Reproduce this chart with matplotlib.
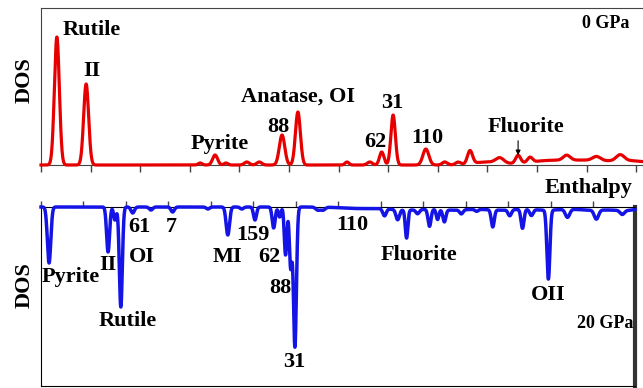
import numpy as np
import matplotlib
matplotlib.use("Agg")
import matplotlib.pyplot as plt

# ------------------------------------------------
# Data (enthalpy in tick units, DOS in arb. units)
# ------------------------------------------------
# 0 GPa: peak centre, height, broadening
top_pos = [0.32, 0.91, 3.21, 3.51, 3.73, 4.15, 4.40, 4.86, 5.18, 6.17, 6.63,
           6.87, 7.10, 7.76, 8.14, 8.41, 8.65, 9.25, 9.62, 9.86, 10.60, 11.20,
           11.68, 9.00, 10.20, 11.00, 11.90]
top_height = [128, 81, 2, 10, 2, 3, 3, 30, 53, 3, 3,
              13, 50, 16, 3, 2.5, 13, 5, 8, 5, 5, 4,
              6, 3, 4, 4, 4]
top_width = [0.05, 0.05, 0.04, 0.05, 0.04, 0.05, 0.05, 0.055, 0.05, 0.04, 0.05,
             0.045, 0.045, 0.06, 0.05, 0.05, 0.05, 0.08, 0.05, 0.05, 0.07, 0.08,
             0.08, 0.3, 0.4, 0.4, 0.4]

# 20 GPa: peak centre, depth, broadening
bot_pos = [0.19, 1.58, 1.74, 1.88, 2.16, 2.59, 3.10, 3.93, 4.40, 4.73, 5.04,
           5.48, 5.62, 5.76, 5.88, 5.98, 6.52, 6.64, 8.09, 8.40, 8.61, 8.87,
           9.15, 9.34, 9.50, 9.90, 10.26, 10.64, 11.04, 11.34, 11.55, 11.95,
           12.40, 13.08, 13.69, 7.50, 8.60, 9.70, 10.80, 11.90, 13.00, 13.80]
bot_depth = [56, 45, 13, 100, 6, 3, 5, 2, 28, 2, 13,
             21, 10, 48, 60, 140, 3, 3, 7, 10, 28, 4,
             17, 10, 12, 4, 2, 17, 6, 19, 6, 69,
             8, 9, 4, 1.5, 3, 3, 3, 3, 3, 3]
bot_width = [0.04, 0.035, 0.03, 0.035, 0.04, 0.04, 0.04, 0.04, 0.04, 0.04, 0.035,
             0.035, 0.03, 0.03, 0.03, 0.035, 0.05, 0.05, 0.04, 0.04, 0.03, 0.04,
             0.035, 0.03, 0.035, 0.04, 0.04, 0.035, 0.04, 0.035, 0.04, 0.035,
             0.05, 0.05, 0.05, 0.4, 0.4, 0.4, 0.4, 0.4, 0.4, 0.3]

# labels: text, x, y (baseline)
top_labels = [("Rutile", 1.02, 130), ("II", 1.03, 89), ("Pyrite", 3.61, 16),
              ("Anatase, OI", 5.18, 63), ("88", 4.78, 33), ("62", 6.75, 18),
              ("31", 7.09, 57), ("110", 7.79, 22), ("Fluorite", 9.78, 33)]
bot_labels = [("Pyrite", 0.71, -75), ("II", 1.58, -63), ("Rutile", 2.05, -119),
              ("61", 2.31, -25), ("OI", 2.38, -55), ("7", 3.06, -25),
              ("MI", 4.40, -55), ("159", 4.99, -33), ("62", 5.39, -55),
              ("88", 5.63, -86), ("31", 5.96, -160), ("110", 7.34, -23),
              ("Fluorite", 8.90, -53), ("OII", 11.95, -93)]


def broadened(x, pos, amp, width):
    y = np.zeros_like(x)
    for p, a, w in zip(pos, amp, width):
        y += a * np.exp(-0.5 * ((x - p) / w) ** 2)
    return y


font = dict(family=["Liberation Serif", "DejaVu Serif"], weight="bold")

fig = plt.figure(figsize=(6.43, 3.88), dpi=100)
# top panel runs off the right edge of the picture
ax1 = fig.add_axes([41 / 643, 1 - 165 / 388, 612 / 643, 157 / 388])
ax2 = fig.add_axes([41 / 643, 1 - 386 / 388, 594 / 643, 179 / 388])

# top panel, 0 GPa
x1 = np.linspace(0, 12.34, 4000)
ax1.plot(x1, broadened(x1, top_pos, top_height, top_width), color="#e60000",
         lw=2.3, clip_on=False, zorder=3)
ax1.set_xlim(0, 12.34)
ax1.set_ylim(0, 157)
ax1.set_xticks(np.arange(0, 13))
ax1.set_yticks([])
ax1.tick_params(axis="x", direction="out", length=5, width=1, color="#444444",
                labelbottom=False)
ax1.spines["right"].set_visible(False)
for s in ["top", "left", "bottom"]:
    ax1.spines[s].set_color("#444444")
for txt, x, y in top_labels:
    ax1.text(x, y, txt, ha="center", va="baseline", fontsize=16, **font)
ax1.text(11.87, 137, "0 GPa", ha="right", va="baseline", fontsize=13, **font)
ax1.annotate("", xy=(9.62, 7), xytext=(9.62, 27),
             arrowprops=dict(arrowstyle="-|>", color="black", lw=0.8,
                             mutation_scale=7))

# bottom panel, 20 GPa
x2 = np.linspace(0, 13.99, 5000)
ax2.plot(x2, -broadened(x2, bot_pos, bot_depth, bot_width), color="#1414e6",
         lw=2.5, clip_on=False, zorder=3)
ax2.set_xlim(0, 13.99)
ax2.set_ylim(-179, 0)
ax2.set_xticks(np.arange(0, 14))
ax2.set_yticks([])
ax2.tick_params(axis="x", direction="out", length=4, width=1, color="#444444",
                top=True, bottom=False, labelbottom=False)
ax2.spines["right"].set_linewidth(3)
ax2.spines["right"].set_color("#333333")
for txt, x, y in bot_labels:
    ax2.text(x, y, txt, ha="center", va="baseline", fontsize=16, **font)
ax2.text(13.94, -121, "20 GPa", ha="right", va="baseline", fontsize=13, **font)
ax2.text(13.92, 14, "Enthalpy", ha="right", va="baseline", fontsize=16,
         clip_on=False, **font)

fig.text(25 / 643, 1 - 80 / 388, "DOS", rotation=90, ha="center", va="center",
         fontsize=16, **font)
fig.text(25 / 643, 1 - 285 / 388, "DOS", rotation=90, ha="center", va="center",
         fontsize=16, **font)

fig.savefig("out.png", dpi=100)
